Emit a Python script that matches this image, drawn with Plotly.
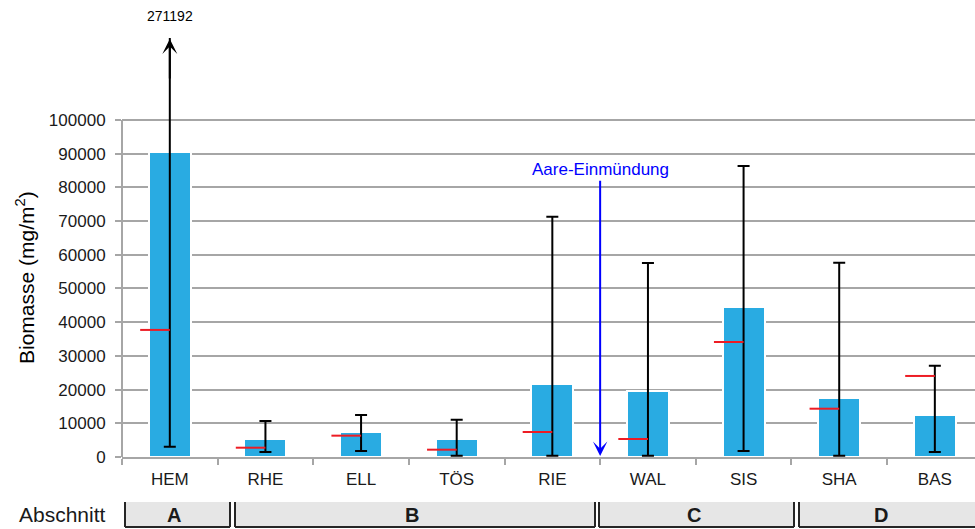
import plotly.graph_objects as go

# Biomass per sampling site (mg/m²)
sites = ["HEM", "RHE", "ELL", "TÖS", "RIE", "WAL", "SIS", "SHA", "BAS"]
mean_vals = [90400, 5250, 7330, 5250, 21750, 19670, 44500, 17600, 12460]
median_vals = [37700, 2760, 6330, 2170, 7420, 5340, 34120, 14330, 24040]
min_vals = [3060, 1500, 1780, 400, 400, 400, 1780, 400, 1480]
max_vals = [271192, 10700, 12460, 11070, 71300, 57570, 86350, 57600, 27100]
y_ticks = [0, 10000, 20000, 30000, 40000, 50000, 60000, 70000, 80000, 90000, 100000]

# River sections of the strip below the chart
sections = ["A", "B", "C", "D"]
# horizontal extent of each section box, in page pixels
section_box_px = [(125, 230), (235, 595), (599, 794), (799, 990)]
# where each section letter sits, in page pixels
section_label_px = [174, 412, 694, 881]

confluence_label = "Aare-Einmündung"
confluence_pos = 4.5  # between RIE and WAL

W, H = 975, 529
ML, MR, MT, MB = 122, 0, 38, 72
X_RANGE = [-0.5, 8.42]
Y_MAX = 124300

SANS = "Arial, Liberation Sans, sans-serif"
GRID = "#a6a6a6"
BLUE = "#29abe2"
TXT = "#1a1a1a"

plot_h = H - MT - MB
plot_w = W - ML - MR


def ypx(py):
    """page pixel row -> paper y"""
    return (H - MB - py) / plot_h


def xpx(px):
    """page pixel column -> paper x"""
    return (px - ML) / plot_w


xs = list(range(len(sites)))

fig = go.Figure()

fig.add_trace(go.Bar(
    x=xs, y=mean_vals, width=0.44,
    marker=dict(color=BLUE, line=dict(color="white", width=2)),
    error_y=dict(
        type="data", symmetric=False,
        array=[mx - m for mx, m in zip(max_vals, mean_vals)],
        arrayminus=[m - mn for m, mn in zip(mean_vals, min_vals)],
        color="black", thickness=2, width=6,
    ),
    showlegend=False, hoverinfo="skip",
))

# median markers: short red dash left of each whisker
mx, my = [], []
for i, m in enumerate(median_vals):
    mx += [i - 0.31, i, None]
    my += [m, m, None]
fig.add_trace(go.Scatter(
    x=mx, y=my, mode="lines",
    line=dict(color="#ed1c24", width=2),
    showlegend=False, hoverinfo="skip",
))

shapes = []
annotations = []

# y axis line only up to the last gridline
shapes.append(dict(type="line", xref="paper", yref="paper",
                   x0=0, x1=0, y0=0, y1=y_ticks[-1] / Y_MAX,
                   line=dict(color=GRID, width=2)))

# whisker of HEM runs off the scale -> arrow head and value label
hem = 0
annotations.append(dict(
    x=hem, y=Y_MAX * 0.9975, xref="x", yref="y",
    ax=hem, ay=Y_MAX * 0.9, axref="x", ayref="y",
    text="", showarrow=True, arrowhead=3, arrowsize=1.25,
    arrowwidth=2, arrowcolor="black",
))
annotations.append(dict(
    x=hem, y=1, xref="x", yref="paper", yanchor="bottom", yshift=12,
    text=str(max_vals[hem]), showarrow=False,
    font=dict(family=SANS, size=14, color="black"),
))

# confluence marker
annotations.append(dict(
    x=confluence_pos, y=300, xref="x", yref="y",
    ax=confluence_pos, ay=85200, axref="x", ayref="y",
    text=confluence_label, showarrow=True, arrowhead=3, arrowsize=1.2,
    arrowwidth=2, arrowcolor="#0000ff",
    font=dict(family=SANS, size=17, color="#0000ff"),
))

# y axis title
annotations.append(dict(
    x=xpx(25), y=ypx(278), xref="paper", yref="paper",
    xanchor="center", yanchor="middle",
    text="Biomasse (mg/m<sup>2</sup>)", textangle=-90, showarrow=False,
    font=dict(family=SANS, size=21, color="black"),
))

# section strip below the axis
box_top, box_bot = ypx(502), ypx(527)
box_mid = (box_top + box_bot) / 2
annotations.append(dict(
    x=xpx(108), y=box_mid, xref="paper", yref="paper",
    xanchor="right", yanchor="middle", text="Abschnitt", showarrow=False,
    font=dict(family=SANS, size=21, color=TXT),
))
for lab, (p0, p1), pl in zip(sections, section_box_px, section_label_px):
    x0, x1 = xpx(p0), xpx(p1)
    shapes.append(dict(type="rect", xref="paper", yref="paper",
                       x0=x0, x1=x1, y0=box_bot, y1=box_top,
                       fillcolor="#e6e6e6", line=dict(width=0), layer="above"))
    for (a0, a1, b0, b1) in [(x0, x0, box_bot, box_top), (x1, x1, box_bot, box_top),
                             (x0, x1, box_bot, box_bot)]:
        shapes.append(dict(type="line", xref="paper", yref="paper",
                           x0=a0, x1=a1, y0=b0, y1=b1,
                           line=dict(color="#262626", width=2), layer="above"))
    annotations.append(dict(
        x=xpx(pl), y=box_mid, xref="paper", yref="paper",
        xanchor="center", yanchor="middle",
        text="<b>%s</b>" % lab, showarrow=False,
        font=dict(family=SANS, size=20, color=TXT),
    ))

fig.update_layout(
    width=W, height=H,
    margin=dict(l=ML, r=MR, t=MT, b=MB),
    plot_bgcolor="white", paper_bgcolor="white",
    shapes=shapes, annotations=annotations,
    bargap=0,
    xaxis=dict(
        range=X_RANGE, tickmode="array", tickvals=xs, ticktext=sites,
        ticks="", showgrid=False, zeroline=False,
        showline=True, linecolor=GRID, linewidth=2,
        ticklabelstandoff=6,
        tickfont=dict(family=SANS, size=17, color=TXT),
        minor=dict(tickmode="array",
                   tickvals=[i - 0.5 for i in range(len(sites) + 1)],
                   ticks="outside", ticklen=6, tickwidth=2, tickcolor=GRID,
                   showgrid=False),
        fixedrange=True,
    ),
    yaxis=dict(
        range=[0, Y_MAX], tickmode="array", tickvals=y_ticks,
        ticktext=[str(v) for v in y_ticks],
        showgrid=True, gridcolor=GRID, gridwidth=2,
        zeroline=False, showline=False,
        ticks="outside", ticklen=6, tickwidth=2, tickcolor=GRID,
        ticklabelstandoff=6,
        tickfont=dict(family=SANS, size=17, color=TXT),
        fixedrange=True,
    ),
)

fig.write_html("out.html")
